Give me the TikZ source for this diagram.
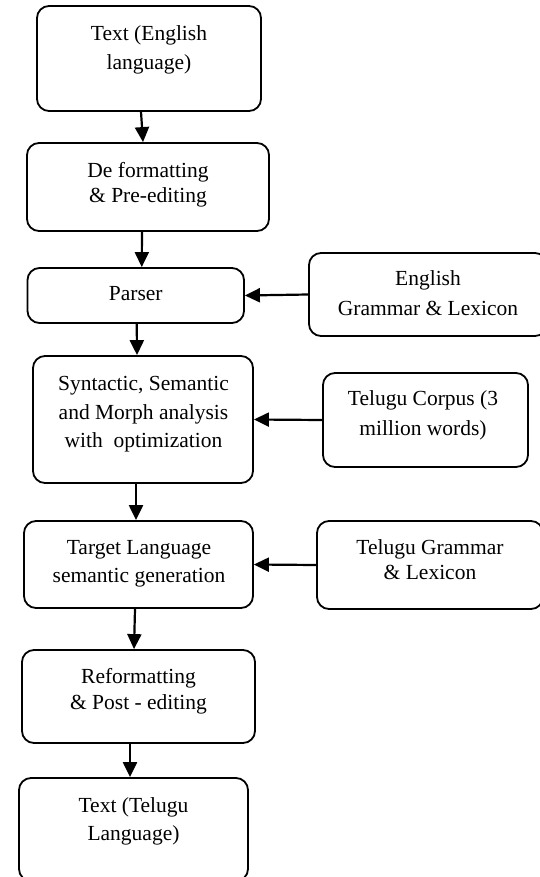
\documentclass[tikz,border=0pt]{standalone}
\usepackage{fontspec}
\setmainfont{Liberation Serif}
\usetikzlibrary{arrows.meta}
\begin{document}
\begin{tikzpicture}[x=1pt,y=-1pt,
  box/.style={draw=black,line width=1.8pt,rounded corners=12pt,inner sep=0pt,fill=none},
  txt/.style={anchor=base,inner sep=0pt,font=\fontsize{21.5}{26}\selectfont},
  arr/.style={line width=2.2pt,-{Triangle[length=15pt,width=14pt]}}]
\useasboundingbox[fill=white] (0,0) rectangle (540,877);
% boxes
\node[box,minimum width=224pt,minimum height=105pt] (A) at (149,58.5) {};
\node[box,minimum width=242pt,minimum height=88pt] (B) at (148,187) {};
\node[box,minimum width=216.5pt,minimum height=55pt] (C) at (135.75,295.5) {};
\node[box,minimum width=238pt,minimum height=83pt] (D) at (428,294.5) {};
\node[box,minimum width=220pt,minimum height=127pt] (E) at (143,419.5) {};
\node[box,minimum width=205pt,minimum height=94pt] (F) at (425.5,420) {};
\node[box,minimum width=229pt,minimum height=87pt] (G) at (138.5,564.5) {};
\node[box,minimum width=226pt,minimum height=88pt] (H) at (430,565) {};
\node[box,minimum width=233pt,minimum height=93pt] (I) at (138.5,696.5) {};
\node[box,minimum width=229pt,minimum height=103pt] (J) at (133.5,829.5) {};
% texts
\node[txt] (A1) at (149,40.5) {Text (English};
\node[txt] (A2) at (149,69.5) {language)};
\node[txt] (B1) at (148,177.5) {De formatting};
\node[txt] (B2) at (148,202.5) {\& Pre-editing};
\node[txt] (C1) at (135.75,300.5) {Parser};
\node[txt] (D1) at (428,285.5) {English};
\node[txt] (D2) at (428,315.5) {Grammar \& Lexicon};
\node[txt] (E1) at (143.5,390.5) {Syntactic, Semantic};
\node[txt] (E2) at (143.5,419.5) {and Morph analysis};
\node[txt] (E3) at (143.5,447.5) {with\ \ optimization};
\node[txt] (F1) at (423,405.5) {Telugu Corpus (3};
\node[txt] (F2) at (423,435.5) {million words)};
\node[txt] (G1) at (139,554.5) {Target Language};
\node[txt] (G2) at (139,582.5) {semantic generation};
\node[txt] (H1) at (430,554.5) {Telugu Grammar};
\node[txt] (H2) at (430,579.5) {\& Lexicon};
\node[txt] (I1) at (138.5,683.5) {Reformatting};
\node[txt] (I2) at (138.5,709.5) {\& Post - editing};
\node[txt] (J1) at (133.5,812.5) {Text (Telugu};
\node[txt] (J2) at (133.5,840.5) {Language)};
% connectors
\draw[arr] ([xshift=-8pt]A.south) -- ([xshift=-5pt]B.north);
\draw[arr] ([xshift=-6pt]B.south) -- ([xshift=6pt]C.north);
\draw[arr] (D.west) -- (C.east);
\draw[arr] ([xshift=1pt]C.south) -- ([xshift=-6pt]E.north);
\draw[arr] (F.west) -- (E.east);
\draw[arr] ([xshift=-7pt]E.south) -- ([xshift=-2.5pt]G.north);
\draw[arr] (H.west) -- (G.east);
\draw[arr] ([xshift=-3.5pt]G.south) -- ([xshift=-4.5pt]I.north);
\draw[arr] ([xshift=-8.5pt]I.south) -- ([xshift=-3.5pt]J.north);
\end{tikzpicture}
\end{document}
